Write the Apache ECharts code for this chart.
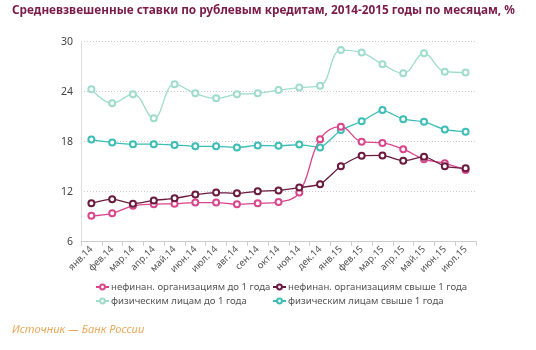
<!DOCTYPE html>
<html><head><meta charset="utf-8">
<script src="https://cdn.jsdelivr.net/npm/echarts@6/dist/echarts.min.js"></script>
<style>html,body{margin:0;padding:0;background:#fff}#c{width:536px;height:350px}</style>
</head><body><div id="c"></div>
<script>
var months = ['янв.14','фев.14','мар.14','апр.14','май.14','июн.14','июл.14','авг.14','сен.14','окт.14','ноя.14','дек.14','янв.15','фев.15','мар.15','апр.15','май.15','июн.15','июл.15'];
var corpShort = [9.1,9.4,10.3,10.5,10.55,10.7,10.7,10.5,10.6,10.75,11.9,18.3,19.8,18.0,17.85,17.1,15.9,15.4,14.6];
var corpLong  = [10.6,11.1,10.55,10.95,11.2,11.65,11.9,11.8,12.05,12.15,12.5,12.9,15.05,16.3,16.35,15.7,16.2,15.05,14.8];
var persShort = [24.3,22.6,23.7,20.8,24.9,23.8,23.2,23.7,23.8,24.2,24.5,24.7,29.0,28.7,27.3,26.2,28.6,26.4,26.3];
var persLong  = [18.25,17.9,17.7,17.7,17.6,17.45,17.45,17.3,17.55,17.5,17.65,17.3,19.4,20.45,21.8,20.7,20.4,19.45,19.2];
var names = ['нефинан. организациям до 1 года','нефинан. организациям свыше 1 года','физическим лицам до 1 года','физическим лицам свыше 1 года'];
var colors = ['#d9468c','#6b1a3f','#9fdccb','#3cbdb6'];

var chart = echarts.init(document.getElementById('c'), null, {renderer:'canvas'});
function ser(i, data, smooth){
  return {name:names[i], type:'line', data:data, smooth:smooth, symbol:'emptyCircle', symbolSize:6,
    lineStyle:{color:colors[i], width:1.3}, itemStyle:{color:colors[i], borderWidth:1.5}};
}
function leg(i,x,y){ return {left:x, top:y, data:[names[i]], textStyle:{color:'#555', fontSize:9.6, fontFamily:'Noto Sans', padding:[0,0,0,-3]}, itemWidth:13, itemHeight:6, padding:0}; }
chart.setOption({
  animation:false,
  color:colors,
  title:[{text:'Средневзвешенные ставки по рублевым кредитам, 2014-2015 годы по месяцам, %', left:12, top:5, padding:0,
    textStyle:{color:'#7a1b4a', fontSize:11.8, fontWeight:'bold', fontFamily:'Noto Sans'}},
    {text:'Источник — Банк России', left:12, top:324, padding:0, textStyle:{color:'#e9a95c', fontSize:11.2, fontStyle:'italic', fontWeight:'normal', fontFamily:'Noto Sans'}}],
  legend:[leg(0,95,282), leg(1,272,282), leg(2,95,296), leg(3,272,296)],
  grid:{left:81, right:60, top:41.7, bottom:108.3},
  xAxis:{type:'category', data:months, boundaryGap:true,
    axisLine:{lineStyle:{color:'#ccc'}}, axisTick:{show:true, length:4, lineStyle:{color:'#ccc'}},
    axisLabel:{rotate:45, fontSize:9.5, color:'#555', margin:6, interval:0, fontFamily:'Noto Sans'}},
  yAxis:{type:'value', min:6, max:30, interval:6,
    axisLine:{show:true, lineStyle:{color:'#ddd'}}, axisTick:{show:false},
    axisLabel:{fontSize:10.5, color:'#444', margin:8, fontFamily:'Noto Sans'},
    splitLine:{lineStyle:{color:'#ccc', type:[1,2]}}},
  series:[ser(2,persShort,0.4), ser(3,persLong,0.15), ser(0,corpShort,0.4), ser(1,corpLong,0.2)]
});
</script></body></html>
